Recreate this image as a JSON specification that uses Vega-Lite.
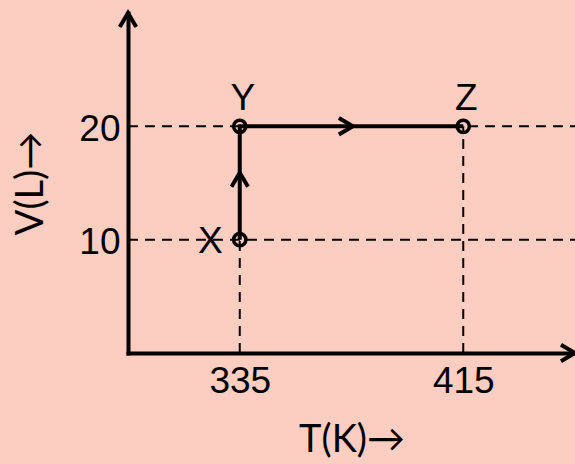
{
  "$schema": "https://vega.github.io/schema/vega-lite/v6.json",
  "width": 447,
  "height": 340,
  "autosize": "none",
  "padding": {"left": 128, "top": 13, "right": 0, "bottom": 111},
  "background": "#fccdc1",
  "config": {"view": {"stroke": null}, "font": "Liberation Sans"},
  "datasets": {
    "states": [
      {"T": 335, "V": 10, "label": "X", "step": 1},
      {"T": 335, "V": 20, "label": "Y", "step": 2},
      {"T": 415, "V": 20, "label": "Z", "step": 3}
    ],
    "guides": [
      {"T": 295, "T2": 455, "V": 20, "V2": 20},
      {"T": 295, "T2": 455, "V": 10, "V2": 10},
      {"T": 335, "T2": 335, "V": 0, "V2": 10},
      {"T": 415, "T2": 415, "V": 0, "V2": 20}
    ],
    "arrows": [
      {"T": 375.5, "V": 20, "dir": "right"},
      {"T": 335, "V": 15.9, "dir": "up"},
      {"T": 295, "V": 30, "dir": "up"},
      {"T": 455, "V": 0, "dir": "right"}
    ]
  },
  "encoding": {
    "x": {
      "field": "T", "type": "quantitative",
      "scale": {"domain": [295, 455], "nice": false, "zero": false},
      "axis": {
        "values": [335, 415], "ticks": false, "grid": false,
        "domainColor": "black", "domainWidth": 4, "domainCap": "square",
        "labelFontSize": 37, "labelColor": "black", "labelPadding": 10,
        "labelFlush": false, "labelOverlap": false,
        "title": "T(K)→", "titleFontSize": 38, "titleFontWeight": "normal", "titleFont": "Lato",
        "titleColor": "black", "titlePadding": 22
      }
    },
    "y": {
      "field": "V", "type": "quantitative",
      "scale": {"domain": [0, 30], "nice": false, "zero": false},
      "axis": {
        "values": [10, 20], "ticks": false, "grid": false,
        "domainColor": "black", "domainWidth": 4, "domainCap": "square",
        "labelFontSize": 37, "labelColor": "black", "labelPadding": 8,
        "labelFlush": false, "labelOverlap": false, "labelOffset": 3,
        "title": "V(L)→", "titleFontSize": 38, "titleFontWeight": "normal", "titleFont": "Lato",
        "titleColor": "black", "titlePadding": 28
      }
    }
  },
  "layer": [
    {
      "data": {"name": "guides"},
      "mark": {"type": "rule", "color": "black", "strokeWidth": 2, "strokeDash": [10, 7]},
      "encoding": {"x2": {"field": "T2"}, "y2": {"field": "V2"}}
    },
    {
      "data": {"name": "states"},
      "mark": {"type": "line", "color": "black", "strokeWidth": 4},
      "encoding": {"order": {"field": "step", "type": "quantitative"}}
    },
    {
      "data": {"name": "states"},
      "mark": {"type": "point", "shape": "circle", "filled": false, "color": "black", "strokeWidth": 3.5, "size": 150, "opacity": 1}
    },
    {
      "data": {"name": "arrows"},
      "mark": {"type": "point", "filled": false, "color": "black", "strokeWidth": 4, "size": 272, "opacity": 1, "strokeJoin": "miter"},
      "encoding": {
        "shape": {
          "field": "dir", "type": "nominal", "legend": null,
          "scale": {"domain": ["up", "right"], "range": ["M-1,1.7L0,0L1,1.7", "M-1.7,-1L0,0L-1.7,1"]}
        }
      }
    },
    {
      "data": {"name": "states"},
      "transform": [{"filter": "datum.label != 'X'"}],
      "mark": {"type": "text", "fontSize": 37, "color": "black", "align": "center", "baseline": "alphabetic", "dx": 3, "dy": -16},
      "encoding": {"text": {"field": "label"}}
    },
    {
      "data": {"name": "states"},
      "transform": [{"filter": "datum.label == 'X'"}],
      "mark": {"type": "text", "fontSize": 37, "color": "black", "align": "right", "baseline": "alphabetic", "dx": -17, "dy": 13},
      "encoding": {"text": {"field": "label"}}
    }
  ]
}
